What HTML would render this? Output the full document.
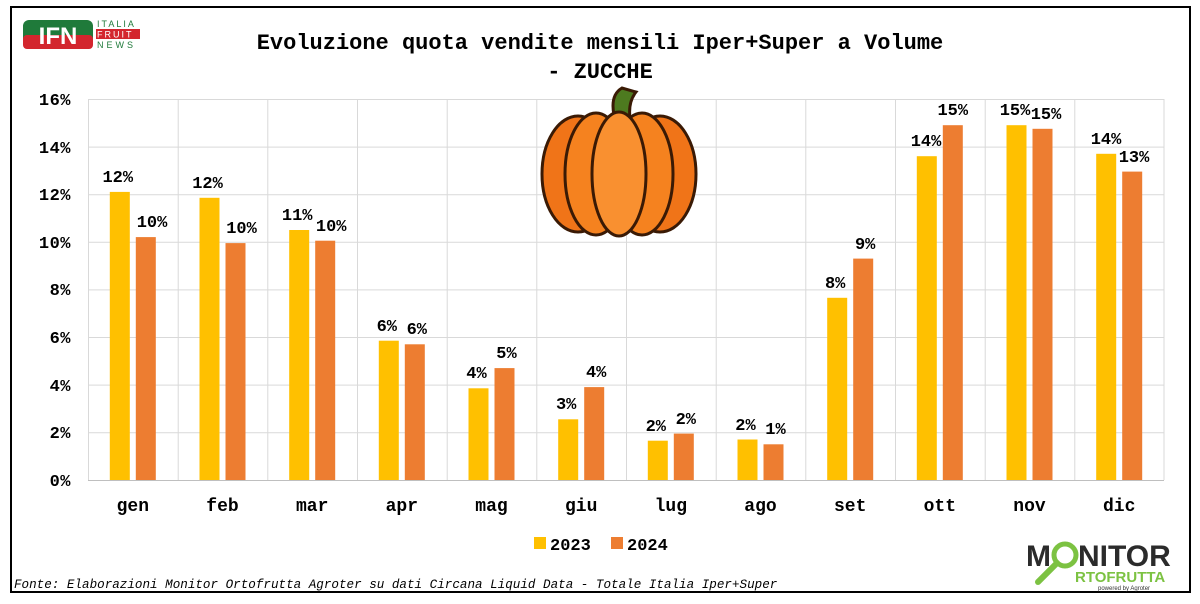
<!DOCTYPE html>
<html><head><meta charset="utf-8"><style>
body{margin:0;background:#fff;width:1200px;height:604px;overflow:hidden}
svg{display:block}
text{font-family:"Liberation Mono",monospace;font-weight:bold;fill:#000}
</style></head><body>
<svg width="1200" height="604" viewBox="0 0 1200 604">
<rect x="11" y="7" width="1179" height="585" fill="#fff" stroke="#000" stroke-width="2"/>
<rect x="23" y="20" width="70" height="29" rx="6" fill="#1f7a3a"/>
<rect x="23" y="35" width="70" height="14" rx="4" fill="#d3262e"/>
<text x="58" y="44" text-anchor="middle" style="font-family:'Liberation Sans',sans-serif;font-size:24px;fill:#fff;font-weight:900">IFN</text>
<text x="97" y="27" style="font-family:'Liberation Sans',sans-serif;font-size:9px;fill:#1f7a3a;font-weight:normal;letter-spacing:2px">ITALIA</text>
<rect x="96" y="29" width="44" height="10" fill="#d3262e"/>
<text x="97" y="37.5" style="font-family:'Liberation Sans',sans-serif;font-size:9px;fill:#fff;font-weight:normal;letter-spacing:2px">FRUIT</text>
<text x="97" y="48" style="font-family:'Liberation Sans',sans-serif;font-size:9px;fill:#1f7a3a;font-weight:normal;letter-spacing:3px">NEWS</text>
<text x="600" y="49" text-anchor="middle" font-size="22">Evoluzione quota vendite mensili Iper+Super a Volume</text>
<text x="600" y="78" text-anchor="middle" font-size="22">- ZUCCHE</text>
<g stroke="#d9d9d9" stroke-width="1">
<line x1="88" y1="99.5" x2="1164" y2="99.5"/><line x1="88" y1="147.1" x2="1164" y2="147.1"/>
<line x1="88" y1="194.7" x2="1164" y2="194.7"/><line x1="88" y1="242.3" x2="1164" y2="242.3"/>
<line x1="88" y1="289.9" x2="1164" y2="289.9"/><line x1="88" y1="337.5" x2="1164" y2="337.5"/>
<line x1="88" y1="385.1" x2="1164" y2="385.1"/><line x1="88" y1="432.7" x2="1164" y2="432.7"/>
<line x1="88.5" y1="99" x2="88.5" y2="480"/><line x1="178.2" y1="99" x2="178.2" y2="480"/>
<line x1="267.8" y1="99" x2="267.8" y2="480"/><line x1="357.5" y1="99" x2="357.5" y2="480"/>
<line x1="447.2" y1="99" x2="447.2" y2="480"/><line x1="536.8" y1="99" x2="536.8" y2="480"/>
<line x1="626.5" y1="99" x2="626.5" y2="480"/><line x1="716.2" y1="99" x2="716.2" y2="480"/>
<line x1="805.8" y1="99" x2="805.8" y2="480"/><line x1="895.5" y1="99" x2="895.5" y2="480"/>
<line x1="985.2" y1="99" x2="985.2" y2="480"/><line x1="1074.8" y1="99" x2="1074.8" y2="480"/>
<line x1="1164" y1="99" x2="1164" y2="480"/>
</g>
<line x1="88" y1="480.5" x2="1164" y2="480.5" stroke="#bfbfbf"/>
<g font-size="17" text-anchor="end" letter-spacing="0.5">
<text x="71" y="105">16%</text><text x="71" y="153">14%</text><text x="71" y="200">12%</text>
<text x="71" y="248">10%</text><text x="71" y="295">8%</text><text x="71" y="343">6%</text>
<text x="71" y="391">4%</text><text x="71" y="438">2%</text><text x="71" y="486">0%</text>
</g>
<g fill="#FFC000">
<rect x="109.8" y="191.9" width="20" height="288.1"/><rect x="199.5" y="197.8" width="20" height="282.2"/>
<rect x="289.2" y="230" width="20" height="250"/><rect x="378.8" y="340.7" width="20" height="139.3"/>
<rect x="468.5" y="388.3" width="20" height="91.7"/><rect x="558.2" y="419.3" width="20" height="60.7"/>
<rect x="647.8" y="440.7" width="20" height="39.3"/><rect x="737.5" y="439.5" width="20" height="40.5"/>
<rect x="827.2" y="297.8" width="20" height="182.2"/><rect x="916.8" y="156.2" width="20" height="323.8"/>
<rect x="1006.5" y="125.2" width="20" height="354.8"/><rect x="1096.2" y="153.8" width="20" height="326.2"/>
</g>
<g fill="#ED7D31">
<rect x="135.8" y="237.1" width="20" height="242.9"/><rect x="225.5" y="243.1" width="20" height="236.9"/>
<rect x="315.2" y="240.7" width="20" height="239.3"/><rect x="404.8" y="344.3" width="20" height="135.7"/>
<rect x="494.5" y="368.1" width="20" height="111.9"/><rect x="584.2" y="387.1" width="20" height="92.9"/>
<rect x="673.8" y="433.6" width="20" height="46.4"/><rect x="763.5" y="444.3" width="20" height="35.7"/>
<rect x="853.2" y="258.6" width="20" height="221.4"/><rect x="942.8" y="125.2" width="20" height="354.8"/>
<rect x="1032.5" y="128.8" width="20" height="351.2"/><rect x="1122.2" y="171.6" width="20" height="308.4"/>
</g>
<g font-size="17" text-anchor="middle">
<text x="117.8" y="182">12%</text><text x="152" y="227">10%</text>
<text x="207.5" y="188">12%</text><text x="241.5" y="233">10%</text>
<text x="297.2" y="220">11%</text><text x="331.2" y="231">10%</text>
<text x="386.8" y="331">6%</text><text x="416.8" y="334">6%</text>
<text x="476.5" y="378">4%</text><text x="506.5" y="358">5%</text>
<text x="566.2" y="409">3%</text><text x="596.2" y="377">4%</text>
<text x="655.8" y="431">2%</text><text x="685.8" y="424">2%</text>
<text x="745.5" y="430">2%</text><text x="775.5" y="434">1%</text>
<text x="835.2" y="288">8%</text><text x="865.2" y="249">9%</text>
<text x="926" y="146">14%</text><text x="952.8" y="115">15%</text>
<text x="1015" y="115">15%</text><text x="1046" y="119">15%</text>
<text x="1106" y="144">14%</text><text x="1134" y="162">13%</text>
</g>
<g font-size="18" text-anchor="middle">
<text x="132.8" y="511">gen</text><text x="222.5" y="511">feb</text><text x="312.2" y="511">mar</text>
<text x="401.8" y="511">apr</text><text x="491.5" y="511">mag</text><text x="581.2" y="511">giu</text>
<text x="670.8" y="511">lug</text><text x="760.5" y="511">ago</text><text x="850.2" y="511">set</text>
<text x="939.8" y="511">ott</text><text x="1029.5" y="511">nov</text><text x="1119.2" y="511">dic</text>
</g>
<rect x="534" y="537" width="12" height="12" fill="#FFC000"/>
<text x="550" y="550" font-size="17">2023</text>
<rect x="611" y="537" width="12" height="12" fill="#ED7D31"/>
<text x="627" y="550" font-size="17">2024</text>
<g stroke="#3a1a05" stroke-width="3">
<path d="M614 115 Q610 95 622 88 L636 92 Q628 102 630 118 Z" fill="#4d7a1f"/>
<ellipse cx="578" cy="174" rx="36" ry="58" fill="#f07418"/>
<ellipse cx="660" cy="174" rx="36" ry="58" fill="#f07418"/>
<ellipse cx="596" cy="174" rx="31" ry="61" fill="#f5821f"/>
<ellipse cx="642" cy="174" rx="31" ry="61" fill="#f5821f"/>
<ellipse cx="619" cy="174" rx="27" ry="62" fill="#f99030"/>
</g>
<text x="14" y="588" font-size="12.6" style="font-style:italic;font-weight:normal">Fonte: Elaborazioni Monitor Ortofrutta Agroter su dati Circana Liquid Data - Totale Italia Iper+Super</text>
<text x="1026" y="566" style="font-family:'Liberation Sans',sans-serif;font-size:30px;font-weight:900;fill:#2b2b2b">M</text>
<circle cx="1065" cy="555" r="11" fill="none" stroke="#7cc242" stroke-width="5"/>
<line x1="1057" y1="563" x2="1038" y2="582" stroke="#7cc242" stroke-width="6" stroke-linecap="round"/>
<text x="1078" y="566" style="font-family:'Liberation Sans',sans-serif;font-size:30px;font-weight:900;fill:#2b2b2b">NITOR</text>
<text x="1075" y="582" style="font-family:'Liberation Sans',sans-serif;font-size:15px;font-weight:900;fill:#7cc242">RTOFRUTTA</text>
<text x="1098" y="590" style="font-family:'Liberation Sans',sans-serif;font-size:6px;font-weight:normal;fill:#333">powered by Agroter</text>
</svg>
</body></html>
